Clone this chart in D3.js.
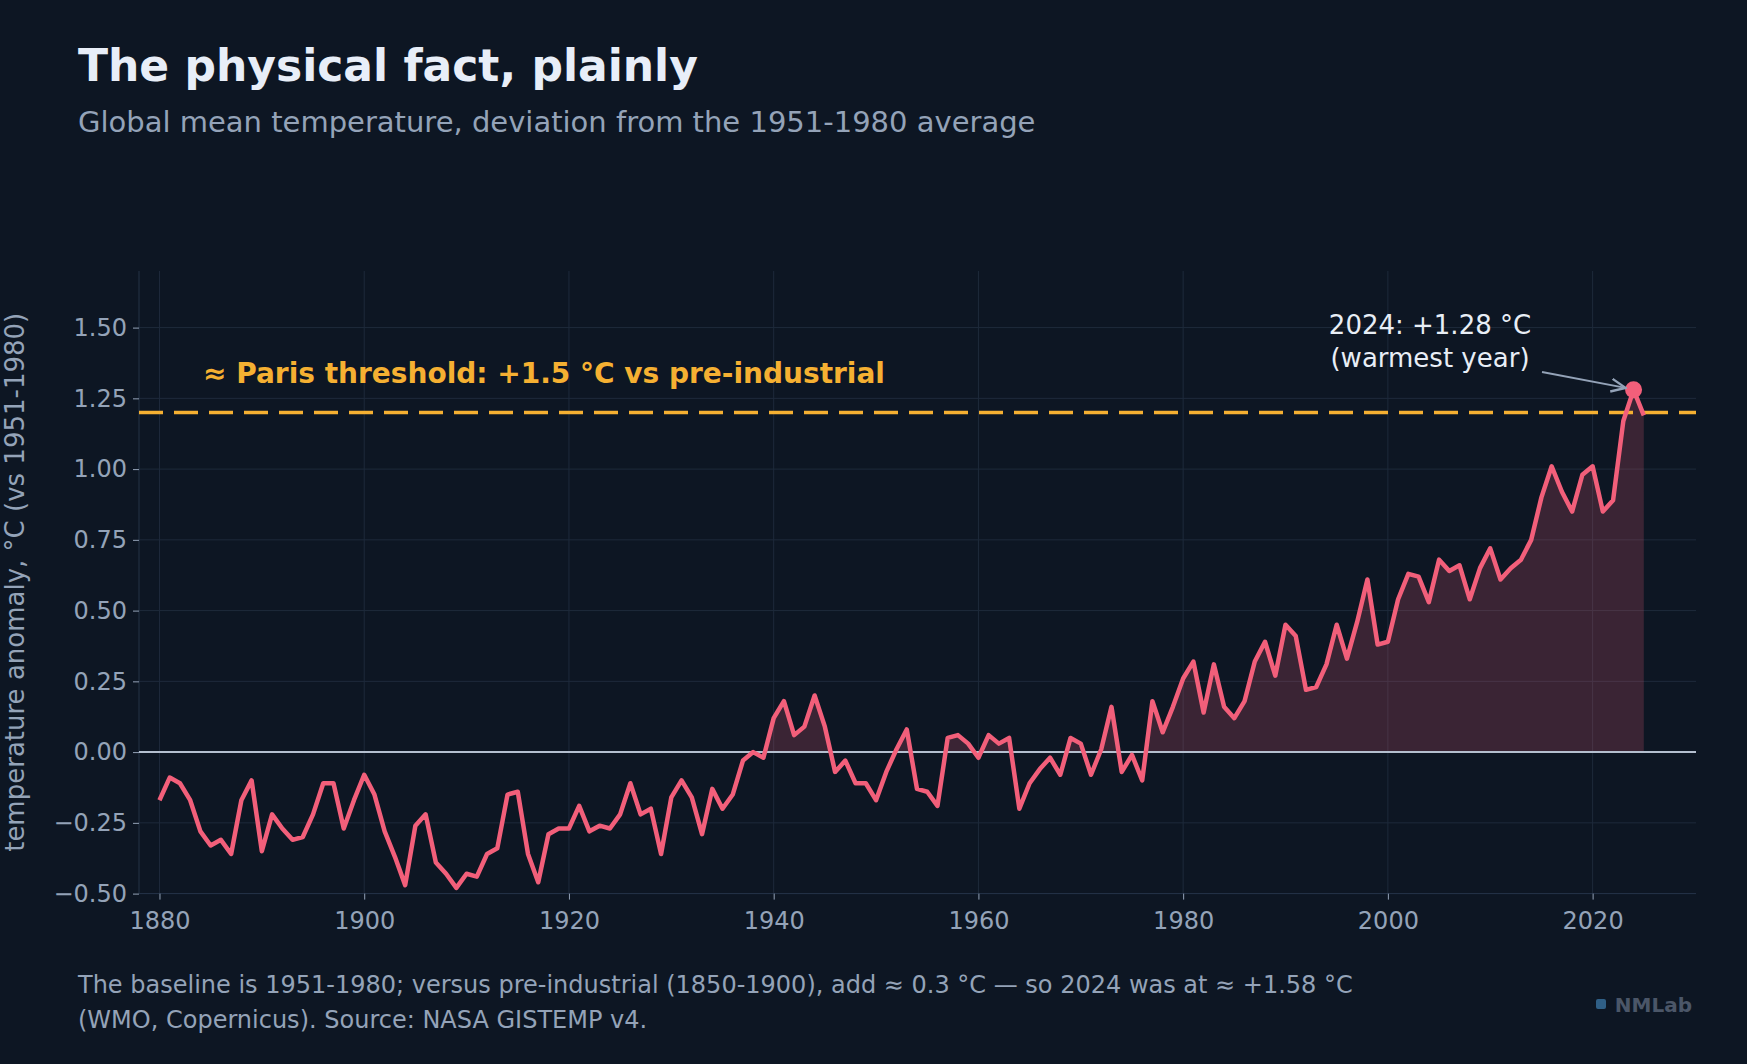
<!DOCTYPE html>
<html><head><meta charset="utf-8">
<script src="https://cdn.jsdelivr.net/npm/d3@7"></script>
<style>body{margin:0;background:#0d1623;}svg{display:block;font-family:"DejaVu Sans",sans-serif;}</style>
</head><body><svg id="c" width="1747" height="1064"></svg>
<script>
const years = d3.range(1880, 2026);
const anomalies = [-0.17,-0.09,-0.11,-0.17,-0.28,-0.33,-0.31,-0.36,-0.17,-0.10,
-0.35,-0.22,-0.27,-0.31,-0.30,-0.22,-0.11,-0.11,-0.27,-0.17,
-0.08,-0.15,-0.28,-0.37,-0.47,-0.26,-0.22,-0.39,-0.43,-0.48,
-0.43,-0.44,-0.36,-0.34,-0.15,-0.14,-0.36,-0.46,-0.29,-0.27,
-0.27,-0.19,-0.28,-0.26,-0.27,-0.22,-0.11,-0.22,-0.20,-0.36,
-0.16,-0.10,-0.16,-0.29,-0.13,-0.20,-0.15,-0.03,0.00,-0.02,
0.12,0.18,0.06,0.09,0.20,0.09,-0.07,-0.03,-0.11,-0.11,
-0.17,-0.07,0.01,0.08,-0.13,-0.14,-0.19,0.05,0.06,0.03,
-0.02,0.06,0.03,0.05,-0.20,-0.11,-0.06,-0.02,-0.08,0.05,
0.03,-0.08,0.01,0.16,-0.07,-0.01,-0.10,0.18,0.07,0.16,
0.26,0.32,0.14,0.31,0.16,0.12,0.18,0.32,0.39,0.27,
0.45,0.41,0.22,0.23,0.31,0.45,0.33,0.46,0.61,0.38,
0.39,0.54,0.63,0.62,0.53,0.68,0.64,0.66,0.54,0.65,
0.72,0.61,0.65,0.68,0.75,0.90,1.01,0.92,0.85,0.98,
1.01,0.85,0.89,1.17,1.28,1.19];
const xTicks = [1880,1900,1920,1940,1960,1980,2000,2020];
const yTicks = [-0.5,-0.25,0,0.25,0.5,0.75,1.0,1.25,1.5];
const parisLevel = 1.2;
const peakYear = 2024, peakValue = 1.28;

const data = years.map((y,i)=>({year:y,v:anomalies[i]}));
const svg = d3.select("#c");
svg.append("rect").attr("width",1747).attr("height",1064).attr("fill","#0d1623");
const L=139,R=1696,T=271,B=893.6;
const x = d3.scaleLinear().domain([1878,2030.1]).range([L,R]);
const y = d3.scaleLinear().domain([-0.5,1.7]).range([B,T]);

const g = svg.append("g");
g.selectAll(".vg").data(xTicks).join("line").attr("x1",d=>x(d)).attr("x2",d=>x(d)).attr("y1",T).attr("y2",B).attr("stroke","#1e2a3b").attr("stroke-width",1);
g.selectAll(".hg").data(yTicks).join("line").attr("x1",L).attr("x2",R).attr("y1",d=>y(d)).attr("y2",d=>y(d)).attr("stroke","#1e2a3b").attr("stroke-width",1);
svg.append("line").attr("x1",L).attr("x2",L).attr("y1",T).attr("y2",B).attr("stroke","#243247");
svg.append("line").attr("x1",L).attr("x2",R).attr("y1",B).attr("y2",B).attr("stroke","#243247");

const xa = svg.append("g").attr("transform",`translate(0,${B})`).call(d3.axisBottom(x).tickValues(xTicks).tickFormat(d3.format("d")).tickSize(6).tickPadding(8));
const ya = svg.append("g").attr("transform",`translate(${L},0)`).call(d3.axisLeft(y).tickValues(yTicks).tickFormat(d=>d<0?"\u2212"+Math.abs(d).toFixed(2):d.toFixed(2)).tickSize(6).tickPadding(6));
[xa,ya].forEach(a=>{a.select(".domain").remove();a.selectAll("line").attr("stroke","#94a3b8");a.selectAll("text").attr("fill","#94a3b8").attr("font-size",24).attr("font-family","DejaVu Sans");});
xa.selectAll("text").attr("dy","0.9em");

svg.append("clipPath").attr("id","pos").append("rect").attr("x",L).attr("y",T-20).attr("width",R-L).attr("height",y(0)-T+20);
svg.append("path").datum(data).attr("clip-path","url(#pos)")
 .attr("d",d3.area().x(d=>x(d.year)).y0(y(0)).y1(d=>y(d.v))).attr("fill","#f25f7a").attr("opacity",0.2);
svg.append("line").attr("x1",L).attr("x2",R).attr("y1",y(0)).attr("y2",y(0)).attr("stroke","#b4bfcf").attr("stroke-width",2);
svg.append("line").attr("x1",L).attr("x2",R).attr("y1",y(parisLevel)).attr("y2",y(parisLevel)).attr("stroke","#f5b032").attr("stroke-width",3.5).attr("stroke-dasharray","24,11");
svg.append("text").attr("x",203).attr("y",y(1.25)-15).attr("fill","#f5b032").attr("font-size",28).attr("font-weight","bold").text("≈ Paris threshold: +1.5 °C vs pre-industrial");
svg.append("path").datum(data).attr("d",d3.line().x(d=>x(d.year)).y(d=>y(d.v))).attr("fill","none").attr("stroke","#f25f7a").attr("stroke-width",4.5).attr("stroke-linejoin","round");
svg.append("circle").attr("cx",x(peakYear)).attr("cy",y(peakValue)).attr("r",8.5).attr("fill","#f25f7a");
svg.append("text").attr("x",1430).attr("y",334).attr("text-anchor","middle").attr("fill","#e8eef6").attr("font-size",26).text("2024: +1.28 °C");
svg.append("text").attr("x",1430).attr("y",367).attr("text-anchor","middle").attr("fill","#e8eef6").attr("font-size",26).text("(warmest year)");
svg.append("defs").append("marker").attr("id","ah").attr("viewBox","0 0 10 10").attr("refX",9).attr("refY",5).attr("markerWidth",8).attr("markerHeight",8).attr("orient","auto")
 .append("path").attr("d","M0,1 L9,5 L0,9").attr("fill","none").attr("stroke","#94a3b8").attr("stroke-width",1.5);
svg.append("line").attr("x1",1542).attr("y1",372).attr("x2",x(peakYear)-8).attr("y2",y(peakValue)-2).attr("stroke","#94a3b8").attr("stroke-width",2).attr("marker-end","url(#ah)");

svg.append("text").attr("x",78).attr("y",81).attr("fill","#e8eef8").attr("font-size",44).attr("font-weight","bold").text("The physical fact, plainly");
svg.append("text").attr("x",78).attr("y",132).attr("fill","#94a3b8").attr("font-size",29).text("Global mean temperature, deviation from the 1951-1980 average");
svg.append("text").attr("transform",`translate(24,${(T+B)/2}) rotate(-90)`).attr("text-anchor","middle").attr("fill","#94a3b8").attr("font-size",26).text("temperature anomaly, °C (vs 1951-1980)");
svg.append("text").attr("x",78).attr("y",993).attr("fill","#94a3b8").attr("font-size",24).text("The baseline is 1951-1980; versus pre-industrial (1850-1900), add ≈ 0.3 °C — so 2024 was at ≈ +1.58 °C");
svg.append("text").attr("x",78).attr("y",1028).attr("fill","#94a3b8").attr("font-size",24).text("(WMO, Copernicus). Source: NASA GISTEMP v4.");
svg.append("rect").attr("x",1596).attr("y",999).attr("width",10).attr("height",10).attr("rx",2).attr("fill","#2f5f86");
svg.append("text").attr("x",1692).attr("y",1012).attr("text-anchor","end").attr("fill","#4b5668").attr("font-size",20).attr("font-weight","bold").text("NMLab");
</script></body></html>
